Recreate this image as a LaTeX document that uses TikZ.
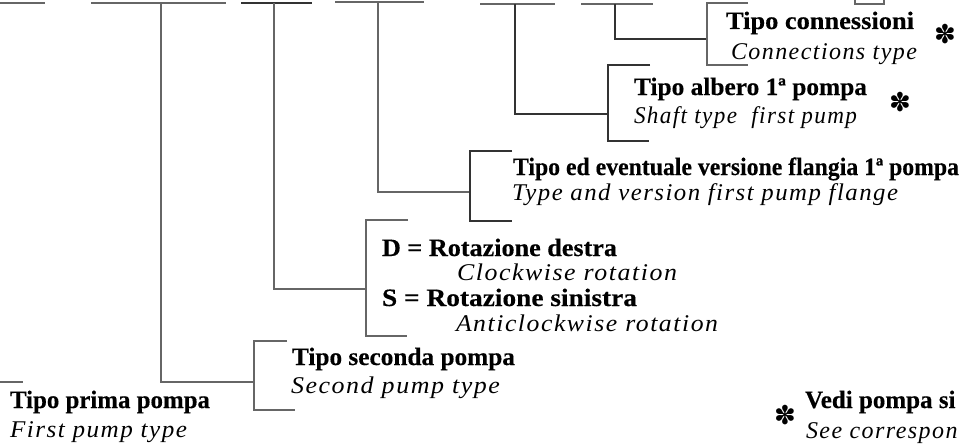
\documentclass[tikz,border=0pt]{standalone}
\usepackage{fontspec}
\setmainfont{Liberation Serif}[BoldFeatures={FakeBold=0.3}]
\newfontfamily\itf[LetterSpace=6]{Liberation Serif}
\newfontfamily\symf{DejaVu Sans}
\usepackage{graphicx}
\newcommand{\bfit}[3]{\resizebox{#1pt}{\height}{\fontsize{#2}{#2}\selectfont\bfseries #3}}
\newcommand{\itit}[3]{\resizebox{#1pt}{\height}{\fontsize{#2}{#2}\itf\itshape #3}}
\newcommand{\bfnat}[2]{{\fontsize{#1}{#1}\selectfont\bfseries #2}}
\newcommand{\itnat}[2]{{\fontsize{#1}{#1}\itf\itshape #2}}
\newcommand{\myast}{{\fontsize{26}{26}\symf ✽}}
\tikzset{
  txt/.style={inner sep=0pt, outer sep=0pt, anchor=base west},
  sym/.style={inner sep=0pt, outer sep=0pt, anchor=center},
  ln/.style={draw=black!60, line width=1.2pt},
  lnk/.style={draw=black!80, line width=1.1pt},
}
\begin{document}
\begin{tikzpicture}[x=1pt,y=-1pt]
\useasboundingbox (0,0) rectangle (964,447);
\clip (0,0) rectangle (964,447);
% top-left fragment
\draw[ln] (0,3) -- (45,3);
\draw[ln] (0,382) -- (23,382);
% branch 2: Tipo seconda pompa
\coordinate (v2) at (161,3);
\coordinate (b2) at (254,382);
\draw[ln] (91,3) -- (226,3);
\draw[ln] (v2) |- (b2);
\draw[ln] (287,341) -- (254,341) -- (254,410) -- (295,410);
% branch 3: rotation
\coordinate (v3) at (274,3);
\coordinate (b3) at (366,289);
\draw[lnk] (241,3) -- (312,3);
\draw[ln] (v3) |- (b3);
\draw[ln] (408,220) -- (366,220) -- (366,336) -- (407,336);
% branch 4: flangia
\coordinate (v4) at (378,2);
\coordinate (b4) at (470,192);
\draw[ln] (335,2) -- (424,2);
\draw[ln] (v4) |- (b4);
\draw[lnk] (512,151) -- (470,151) -- (470,221) -- (512,221);
% branch 5: albero
\coordinate (v5) at (515,4);
\coordinate (b5) at (608,114);
\draw[ln] (480,4) -- (555,4);
\draw[lnk] (v5) |- (b5);
\draw[lnk] (650,65) -- (608,65) -- (608,141) -- (649,141);
% branch 6: connessioni
\coordinate (v6) at (615,4);
\coordinate (b6) at (707,39);
\draw[ln] (581,4) -- (653,4);
\draw[lnk] (v6) |- (b6);
\draw[ln] (748,3) -- (707,3) -- (707,65) -- (748,65);
% top-right box fragment
\draw[ln] (855,-10) rectangle (884,4);
% texts
\node[txt] (t6a) at (726,29) {\bfit{188}{25}{Tipo connessioni}};
\node[txt] (t6b) at (731,59) {\itit{186}{24}{Connections type}};
\node[sym] (s6) at (945,34) {\myast};
\node[txt] (t5a) at (634,95) {\bfit{233}{25}{Tipo albero 1ª pompa}};
\node[txt] (t5b) at (634,123) {\itit{223}{24}{Shaft type\ \ first pump}};
\node[sym] (s5) at (900,102) {\myast};
\node[txt] (t4a) at (513,175) {\bfit{446}{25}{Tipo ed eventuale versione flangia 1ª pompa}};
\node[txt] (t4b) at (512,200) {\itit{386}{24}{Type and version first pump flange}};
\node[txt] (t3a) at (382,256) {\bfit{235}{25}{D = Rotazione destra}};
\node[txt] (t3b) at (457,280) {\itit{220}{24}{Clockwise rotation}};
\node[txt] (t3c) at (382,306) {\bfit{255}{25}{S = Rotazione sinistra}};
\node[txt] (t3d) at (456,331) {\itit{262}{24}{Anticlockwise rotation}};
\node[txt] (t2a) at (292,365) {\bfit{223}{25}{Tipo seconda pompa}};
\node[txt] (t2b) at (291,393) {\itit{209}{24}{Second pump type}};
\node[txt] (t1a) at (10,408) {\bfit{200}{25}{Tipo prima pompa}};
\node[txt] (t1b) at (10,437) {\itit{177}{24}{First pump type}};
\node[sym] (s0) at (785,415) {\myast};
\node[txt] (n0a) at (805,408) {\bfnat{25}{Vedi pompa si}};
\node[txt] (n0b) at (806,438) {\itnat{24}{See correspon}};
\end{tikzpicture}
\end{document}
